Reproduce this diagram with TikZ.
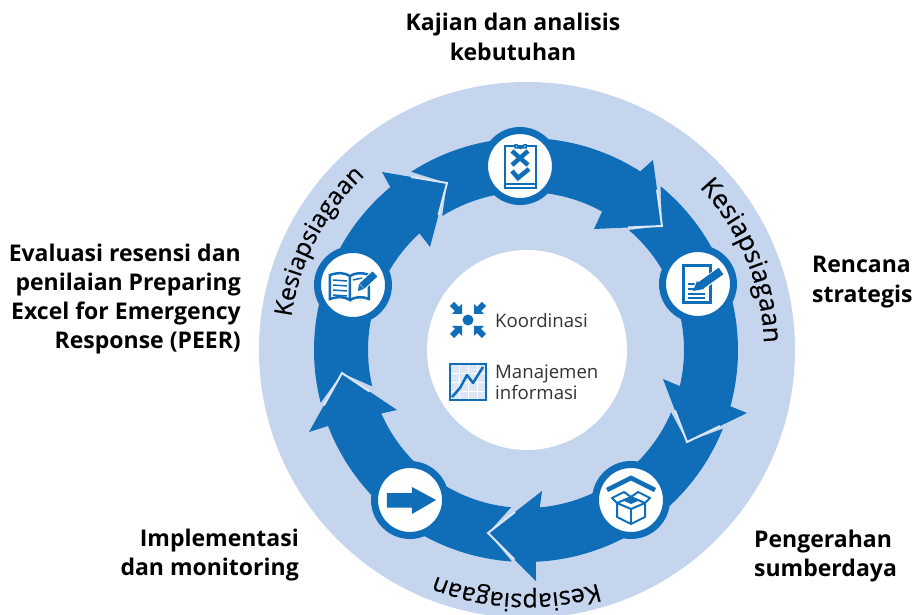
\documentclass[tikz,border=0pt]{standalone}
\usepackage{fontspec}
\setmainfont{Open Sans}
\usetikzlibrary{calc,decorations.text}
\definecolor{arrowblue}{HTML}{106EB8}
\definecolor{ringblue}{HTML}{C5D5EE}
\definecolor{gapblue}{HTML}{DCE6F5}
\definecolor{darktext}{HTML}{333333}
\tikzset{
  x=1pt,y=1pt,
  steplabel/.style={font=\fontsize{23}{29.3}\bfseries\selectfont,text=black,inner sep=0pt},
  centerlabel/.style={font=\fontsize{18.6}{21}\selectfont,text=darktext,inner sep=0pt,align=left,anchor=west},
  iconring/.style={circle,fill=white,draw=arrowblue,line width=7pt,minimum size=71pt,inner sep=0pt},
  icon/.style={draw=arrowblue,line width=2.5pt,line join=miter},
  iconthick/.style={draw=arrowblue,line width=4.5pt},
  gapline/.style={draw=gapblue,line width=2pt,line join=miter},
}
% tail outer, tail inner, shaft outer, shaft inner, barb outer, tip, barb inner, previous tip, name
\newcommand\ringseg[9]{%
  \coordinate (bo#9) at #5; \coordinate (tip#9) at #6; \coordinate (bi#9) at #7;
  \fill[arrowblue] ([shift={(-1,0)}]#1:212) -- #8 -- ([shift={(-1,0)}]#2:158)
    arc[start angle=#2,end angle=#4,radius=158] -- #7 -- #6 -- #5 --
    ([shift={(-1,0)}]#3:212) arc[start angle=#3,end angle=#1,radius=212] -- cycle;
}
\newcommand\gapat[1]{\draw[gapline] ($(bo#1)!.45!(tip#1)$) -- (tip#1) -- ($(bi#1)!.5!(tip#1)$);}
\newcommand\curved[4]{% start angle, end angle, radius, font size
  \path[postaction={decorate,decoration={text along path,text align=center,
    text={|\fontsize{#4}{#4}\selectfont\addfontfeatures{FakeBold=0.4}|Kesiapsiagaan}}}]
    (#1:#3) arc[start angle=#1,end angle=#2,radius=#3];
}
\begin{document}
\begin{tikzpicture}
\path[clip] (-527,-265) rectangle (385,350);
\fill[white] (-527,-265) rectangle (385,350);
\fill[ringblue] (0,0) circle[radius=268];
\fill[white] (0,0) circle[radius=100];

\ringseg{122.8}{122}{57.4}{61.2}{(126,190)}{(135,124)}{(67,121)}{(-80,167)}{b}
\ringseg{50.6}{49.4}{-15.4}{-13.2}{(220,-63)}{(160,-92)}{(136,-29)}{(135,124)}{c}
\ringseg{-21.8}{-23.3}{-87.3}{-85}{(9,-231)}{(-39,-183)}{(15,-141)}{(160,-92)}{d}
\ringseg{-93.8}{-95.4}{-159}{-156.3}{(-218,-82)}{(-185,-23)}{(-130,-60)}{(-39,-183)}{e}
\ringseg{-165.6}{-166.7}{-230.2}{-227.6}{(-145,178)}{(-80,167)}{(-97,103)}{(-185,-23)}{a}
\gapat{a}\gapat{b}\gapat{c}\gapat{d}\gapat{e}

% icon discs
\node[iconring] (top) at (-7,184) {};
\node[iconring] (right) at (171,66) {};
\node[iconring] (left) at (-174,65) {};
\node[iconring] (lowright) at (104,-150) {};
\node[iconring] (lowleft) at (-117,-150) {};

% clipboard
\begin{scope}[shift={(top.center)},yscale=-1]
  \draw[icon] (-15,-20) rectangle (16,22);
  \draw[arrowblue,line width=1.5pt,fill=white] (-5,-21) -- (-3,-21) arc[start angle=180,end angle=0,radius=3.5] -- (6,-21) -- (6,-18) -- (-5,-18) -- cycle;
  \draw[arrowblue,line width=4.5pt] (-8,-15) -- (8,-1) (8,-15) -- (-8,-1);
  \draw[arrowblue,line width=4.5pt] (-8,5) -- (-2,12) -- (9,3);
  \draw[arrowblue,line width=1.5pt] (-14,18) -- (15,18);
\end{scope}
% book
\begin{scope}[shift={(left.center)},yscale=-1]
  \draw[icon] (-23,-10) .. controls (-14,-13) and (-8,-12) .. (-3,-9) -- (-3,15) .. controls (-8,12) and (-14,11) .. (-23,14) -- cycle;
  \draw[icon] (-3,-9) .. controls (2,-12) and (8,-13) .. (16,-10) -- (16,14) .. controls (8,11) and (2,12) .. (-3,15);
  \draw[arrowblue,line width=1.5pt] (-20,-5) -- (-6,-4) (-20,0) -- (-6,1) (-20,5) -- (-6,6) (-20,10) -- (-6,11);
  \draw[arrowblue,line width=1.5pt] (0,-5) -- (9,-7);
  \draw[white,line width=9pt] (7,3) -- (22,-11);
  \draw[arrowblue,line width=7pt] (9,1) -- (22,-11);
  \fill[arrowblue] (5,6) -- (6,-1) -- (11,4) -- cycle;
\end{scope}
% document with pen
\begin{scope}[shift={(right.center)},yscale=-1]
  \draw[icon,line width=3pt] (-15,-18) rectangle (12,19);
  \draw[arrowblue,line width=2pt] (-10,0) -- (-1,0) (-10,5) -- (-2,5) (-10,10) -- (7,10) (-10,14) -- (7,14);
  \draw[white,line width=10pt] (-1,4) -- (24,-13);
  \draw[arrowblue,line width=8pt] (2,2) -- (23,-13);
  \fill[arrowblue] (-5,7) -- (-1,-3) -- (6,5) -- cycle;
\end{scope}
% open box
\begin{scope}[shift={(lowright.center)},yscale=-1]
  \draw[iconthick] (-24,-10) -- (0,-22) -- (24,-10);
  \draw[icon,line width=2pt,line join=round] (-14,3) -- (0,9) -- (14,3) -- (14,17) -- (0,24) -- (-14,17) -- cycle;
  \draw[icon,line width=2pt,line join=round] (0,9) -- (0,24);
  \draw[icon,line width=2pt,line join=round] (-14,3) -- (-19,-2) -- (-7,-8) -- (0,-3) -- (7,-8) -- (19,-2) -- (14,3);
  \draw[icon,line width=2pt,line join=round] (-14,3) -- (0,-3) -- (14,3);
  \fill[arrowblue] (-7,1) -- (0,-3) -- (7,1) -- (0,4) -- cycle;
\end{scope}
% plain arrow
\begin{scope}[shift={(lowleft.center)},yscale=-1]
  \fill[arrowblue] (-23,-7) -- (2,-7) -- (2,-13) -- (26,0) -- (2,14) -- (2,7.5) -- (-23,7.5) -- cycle;
\end{scope}

% converging arrows
\begin{scope}[shift={(-59,30)}]
  \fill[arrowblue] (0,0) circle[radius=5.5];
  \foreach \a in {0,90,180,270}{
    \begin{scope}[rotate=\a]
      \fill[arrowblue] (6,6) -- (6,16) -- (16,6) -- cycle;
      \draw[arrowblue,line width=6pt] (10,10) -- (16,16);
    \end{scope}
  }
\end{scope}
% chart
\begin{scope}[shift={(-77,-14)},yscale=-1]
  \fill[ringblue!60] (0,0) rectangle (36,36);
  \draw[white,line width=.7pt] (9,0) -- (9,36) (18,0) -- (18,36) (27,0) -- (27,36) (0,9) -- (36,9) (0,18) -- (36,18) (0,27) -- (36,27);
  \draw[icon] (0,0) rectangle (36,36);
  \draw[arrowblue,line width=2.5pt,line join=round] (2,33) -- (10,24) -- (17,11) -- (23,19) -- (33,3);
\end{scope}

\node[centerlabel] (coord) at (-32,29) {Koordinasi};
\node[centerlabel] (info) at (-32,-32) {Manajemen\\informasi};

% step labels
\node[steplabel,align=center] (kajian) at (-14,313) {Kajian dan analisis\\kebutuhan};
\node[steplabel,align=left,anchor=west] (rencana) at (285,68) {Rencana\\strategis};
\node[steplabel,align=left,anchor=west] (pengerahan) at (227,-206) {Pengerahan\\sumberdaya};
\node[steplabel,align=right,anchor=east] (implementasi) at (-228,-205) {Implementasi\\dan monitoring};
\node[steplabel,align=right,anchor=east] (evaluasi) at (-286,51) {Evaluasi resensi dan\\penilaian Preparing\\Excel for Emergency\\Response (PEER)};

% curved labels
\curved{178}{127}{238}{24.5}
\curved{51.5}{-6.5}{237}{26}
\curved{-65}{-120}{244}{25}
\end{tikzpicture}
\end{document}
